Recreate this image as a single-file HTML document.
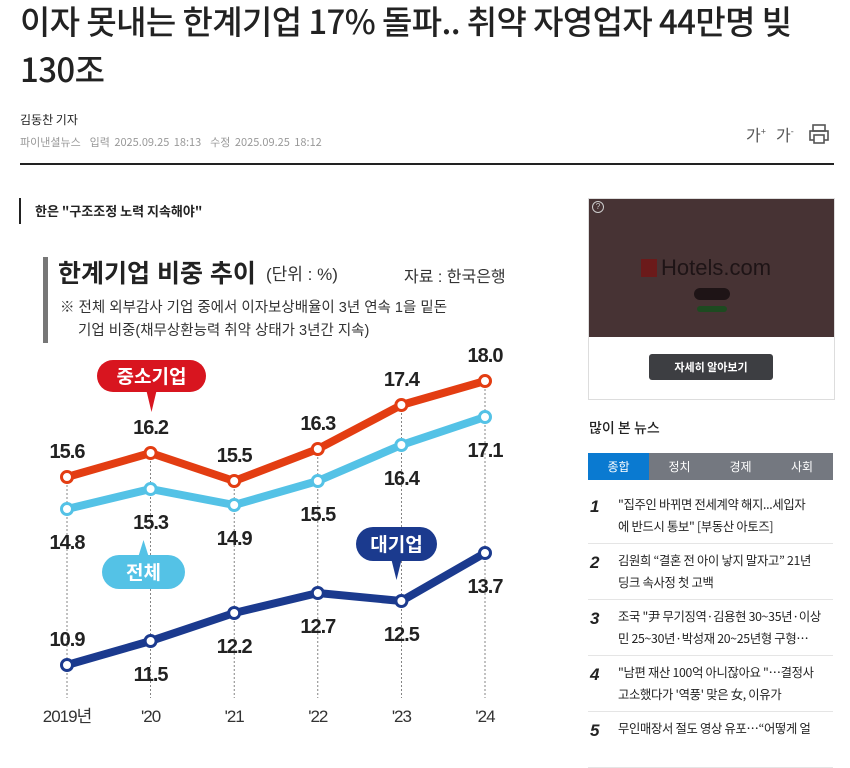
<!DOCTYPE html>
<html><head><meta charset="utf-8"><style>
body{margin:0;width:850px;height:739px;overflow:hidden;background:#fff;font-family:"Liberation Sans","Noto Sans CJK KR",sans-serif;position:relative}
.a{position:absolute}
</style></head><body>
<div class="a" style="left:20px;top:-4px;width:830px;white-space:nowrap;font-size:33px;line-height:48px;color:#222;font-family:'Noto Sans CJK KR',sans-serif;font-weight:500;letter-spacing:-0.6px">이자 못내는 한계기업 17% 돌파.. 취약 자영업자 44만명 빚<br>130조</div>
<div class="a" style="left:20px;top:111px;font-size:12px;color:#222;font-family:'Noto Sans CJK KR',sans-serif">김동찬 기자</div>
<div class="a" style="left:20px;top:134px;font-size:11px;color:#999;font-family:'Noto Sans CJK KR',sans-serif;word-spacing:2px">파이낸셜뉴스 &nbsp;입력 2025.09.25 18:13 &nbsp;수정 2025.09.25 18:12</div>
<div class="a" style="left:746px;top:122px;font-size:16px;color:#555">가<sup style="font-size:9px">+</sup></div>
<div class="a" style="left:776px;top:122px;font-size:16px;color:#555">가<sup style="font-size:9px">-</sup></div>
<svg class="a" style="left:808px;top:123px" width="22" height="22"><rect x="5" y="2" width="12" height="6" fill="none" stroke="#555" stroke-width="1.6"/><rect x="2" y="8" width="18" height="9" fill="none" stroke="#555" stroke-width="1.6"/><rect x="6" y="12" width="10" height="8" fill="#fff" stroke="#555" stroke-width="1.6"/></svg>
<div class="a" style="left:20px;top:163px;width:814px;height:2px;background:#222"></div>

<div class="a" style="left:19px;top:198px;width:2px;height:26px;background:#222"></div>
<div class="a" style="left:35px;top:201px;font-size:13px;font-weight:bold;color:#222;font-family:'Noto Sans CJK KR',sans-serif">한은 "구조조정 노력 지속해야"</div>

<svg class="a" id="chart" style="left:0;top:240px" width="560" height="499" font-family="'Liberation Sans','Noto Sans CJK KR',sans-serif"></svg>

<div class="a" style="left:588px;top:198px;width:245px;height:200px;border:1px solid #ddd;background:#fff">
 <div class="a" style="left:0;top:0;width:245px;height:138px;background:#473334">
  <div class="a" style="left:3px;top:2px;width:10px;height:10px;border:1px solid #ccc;border-radius:50%;font-size:8px;color:#ccc;text-align:center;line-height:10px">?</div>
  <div class="a" style="left:52px;top:60px;width:16px;height:18px;background:#6b1a1a"></div>
  <div class="a" style="left:72px;top:56px;font-size:22px;color:#1e1416">Hotels.com</div>
  <div class="a" style="left:105px;top:89px;width:36px;height:12px;border-radius:6px;background:#1e1416"></div>
  <div class="a" style="left:108px;top:107px;width:30px;height:6px;border-radius:3px;background:#1d4a20"></div>
 </div>
 <div class="a" style="left:60px;top:155px;width:124px;height:26px;background:#3d3e42;border-radius:3px;color:#fff;font-size:11px;font-weight:bold;text-align:center;line-height:26px;font-family:'Noto Sans CJK KR',sans-serif">자세히 알아보기</div>
</div>

<div class="a" style="left:589px;top:418px;font-size:14px;color:#222;font-family:'Noto Sans CJK KR',sans-serif;font-weight:500">많이 본 뉴스</div>
<div class="a" style="left:588px;top:453px;width:245px;height:27px;background:#747880;display:flex;font-size:12px;color:#fff;font-family:'Noto Sans CJK KR',sans-serif;line-height:27px;text-align:center">
 <div style="width:61px;background:#0a7ad1">종합</div>
 <div style="width:61px">정치</div>
 <div style="width:61px">경제</div>
 <div style="width:62px">사회</div>
</div>
<div class="a" id="news" style="left:588px;top:488px;width:245px;font-family:'Noto Sans CJK KR',sans-serif"></div>

<script>
const years=['2019년',"'20","'21","'22","'23","'24"];
const smeValues=[15.6,16.2,15.5,16.3,17.4,18.0];
const totalValues=[14.8,15.3,14.9,15.5,16.4,17.1];
const largeValues=[10.9,11.5,12.2,12.7,12.5,13.7];
const largeLabelAbove=[true,false,false,false,false,false];

const svg=document.getElementById('chart');
const NS='http://www.w3.org/2000/svg';
function mk(tag,attrs,parent){const e=document.createElementNS(NS,tag);for(const k in attrs)e.setAttribute(k,attrs[k]);(parent||svg).appendChild(e);return e;}
const OY=240;
function xs(i){return 67+i*83.6;}
function ys(v){return 1101-40*v-OY;}

let e;
e=mk('rect',{x:43,y:17,width:5,height:86,fill:'#777'});

e=mk('text',{x:58,y:42,'font-size':25,'font-weight':'bold',fill:'#222'});e.textContent='한계기업 비중 추이';

e=mk('text',{x:266,y:40,'font-size':17,fill:'#333'});e.textContent='(단위 : %)';

e=mk('text',{x:404,y:42,'font-size':16,fill:'#333'});e.textContent='자료 : 한국은행';

e=mk('text',{x:60,y:72,'font-size':14.5,fill:'#333'});e.textContent='※ 전체 외부감사 기업 중에서 이자보상배율이 3년 연속 1을 밑돈';

e=mk('text',{x:78,y:95,'font-size':14.5,fill:'#333'});e.textContent='기업 비중(채무상환능력 취약 상태가 3년간 지속)';


years.forEach((y,i)=>{
 const top=ys(smeValues[i]);
 const g=mk('line',{x1:xs(i),x2:xs(i),y1:top,y2:458,stroke:'#666','stroke-width':0.8,'stroke-dasharray':'2,2'});
 
 const t=mk('text',{x:xs(i),y:482,'font-size':17,fill:'#333','text-anchor':'middle','letter-spacing':'-1'});t.textContent=y;
 
});

function series(vals,color,name,labelPos){
 const pts=vals.map((v,i)=>xs(i)+','+ys(v)).join(' ');
 const l=mk('polyline',{points:pts,fill:'none',stroke:color,'stroke-width':8,'stroke-linejoin':'round'});
 
 vals.forEach((v,i)=>{
  const c=mk('circle',{cx:xs(i),cy:ys(v),r:5.5,fill:'#fff',stroke:color,'stroke-width':3});
  
  const above=labelPos(i);
  const t=mk('text',{x:xs(i),y:ys(v)+(above?-19:40),'font-size':20,'font-weight':'bold',fill:'#222','text-anchor':'middle','letter-spacing':'-1'});
  t.textContent=v.toFixed(1);
  
 });
}
series(totalValues,'#54c2e6','total',()=>false);
series(smeValues,'#e33d12','sme',()=>true);
series(largeValues,'#1b3a8e','large',i=>largeLabelAbove[i]);

function bubble(x,y,w,h,tip,color,text,name){
 const g=mk('g',{});
 
 mk('rect',{x:x,y:y,width:w,height:h,rx:h/2,fill:color},g);
 const cx=x+w/2;
 if(tip>y) mk('polygon',{points:`${cx-5},${y+h-1} ${cx+5},${y+h-1} ${cx},${tip}`,fill:color},g);
 else mk('polygon',{points:`${cx-5},${y+1} ${cx+5},${y+1} ${cx},${tip}`,fill:color},g);
 const t=mk('text',{x:cx,y:y+h/2+7,'font-size':19,'font-weight':'bold',fill:'#fff','text-anchor':'middle'},g);t.textContent=text;
}
bubble(97,120,109,32,172,'#d8151f','중소기업','sme-callout');
bubble(102,315,83,34,300,'#54c2e6','전체','total-callout');
bubble(356,287,81,34,340,'#1b3a8e','대기업','large-callout');

const news=[["1",'"집주인 바뀌면 전세계약 해지...세입자<br>에 반드시 통보" [부동산 아토즈]'],["2",'김원희 “결혼 전 아이 낳지 말자고” 21년<br>딩크 속사정 첫 고백'],["3",'조국 "尹 무기징역·김용현 30~35년·이상<br>민 25~30년·박성재 20~25년형 구형…'],["4",'"남편 재산 100억 아니잖아요 "…결정사<br>고소했다가 \'역풍\' 맞은 女, 이유가'],["5",'무인매장서 절도 영상 유포…“어떻게 얼']];
const box=document.getElementById('news');
news.forEach(n=>{
 const d=document.createElement('div');
 
 
 d.style.cssText='position:relative;height:55px;border-bottom:1px solid #e5e5e5;white-space:nowrap';
 d.innerHTML='<div style="position:absolute;left:2px;top:9px;font-size:17px;font-weight:bold;font-style:italic;color:#222;font-family:\'Liberation Sans\'">'+n[0]+'</div><div style="position:absolute;left:30px;top:5px;font-size:12.3px;line-height:22px;color:#222;letter-spacing:-0.3px">'+n[1]+'</div>';
 box.appendChild(d);
});
</script>
</body></html>
